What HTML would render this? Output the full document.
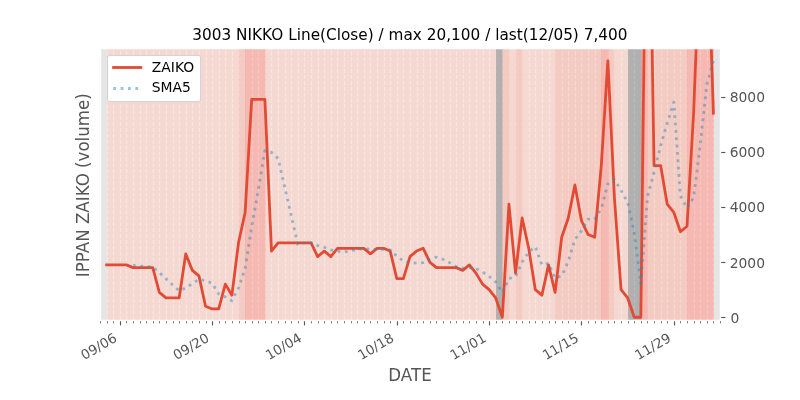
<!DOCTYPE html>
<html lang="en"><head><meta charset="utf-8"><title>3003 NIKKO Line(Close)</title>
<style>
html,body{margin:0;padding:0;background:#fff;}
body{width:800px;height:400px;overflow:hidden;}
svg{display:block;font-family:"DejaVu Sans","Liberation Sans",sans-serif;}
.tk{fill:#555555;font-size:13.89px;}
.lb{fill:#555555;font-size:16.67px;}
.lg{fill:#000;font-size:13.89px;}
</style></head>
<body>
<svg width="800" height="400" viewBox="0 0 800 400">
<defs><clipPath id="ax"><rect x="100" y="48" width="620" height="272"/></clipPath></defs>
<rect x="0" y="0" width="800" height="400" fill="#ffffff"/>
<rect x="100" y="48" width="620" height="272" fill="#e5e5e5"/>
<g clip-path="url(#ax)">
<g stroke="#ffffff" stroke-width="1.11" stroke-dasharray="4.11 1.78" fill="none">
<line x1="100.5" y1="320.5" x2="100.5" y2="48.5"/><line x1="107.5" y1="320.5" x2="107.5" y2="48.5"/><line x1="113.5" y1="320.5" x2="113.5" y2="48.5"/><line x1="120.5" y1="320.5" x2="120.5" y2="48.5"/><line x1="126.5" y1="320.5" x2="126.5" y2="48.5"/><line x1="133.5" y1="320.5" x2="133.5" y2="48.5"/><line x1="140.5" y1="320.5" x2="140.5" y2="48.5"/><line x1="146.5" y1="320.5" x2="146.5" y2="48.5"/><line x1="153.5" y1="320.5" x2="153.5" y2="48.5"/><line x1="159.5" y1="320.5" x2="159.5" y2="48.5"/><line x1="166.5" y1="320.5" x2="166.5" y2="48.5"/><line x1="173.5" y1="320.5" x2="173.5" y2="48.5"/><line x1="179.5" y1="320.5" x2="179.5" y2="48.5"/><line x1="186.5" y1="320.5" x2="186.5" y2="48.5"/><line x1="192.5" y1="320.5" x2="192.5" y2="48.5"/><line x1="199.5" y1="320.5" x2="199.5" y2="48.5"/><line x1="206.5" y1="320.5" x2="206.5" y2="48.5"/><line x1="212.5" y1="320.5" x2="212.5" y2="48.5"/><line x1="219.5" y1="320.5" x2="219.5" y2="48.5"/><line x1="225.5" y1="320.5" x2="225.5" y2="48.5"/><line x1="232.5" y1="320.5" x2="232.5" y2="48.5"/><line x1="239.5" y1="320.5" x2="239.5" y2="48.5"/><line x1="245.5" y1="320.5" x2="245.5" y2="48.5"/><line x1="252.5" y1="320.5" x2="252.5" y2="48.5"/><line x1="258.5" y1="320.5" x2="258.5" y2="48.5"/><line x1="265.5" y1="320.5" x2="265.5" y2="48.5"/><line x1="271.5" y1="320.5" x2="271.5" y2="48.5"/><line x1="278.5" y1="320.5" x2="278.5" y2="48.5"/><line x1="285.5" y1="320.5" x2="285.5" y2="48.5"/><line x1="291.5" y1="320.5" x2="291.5" y2="48.5"/><line x1="298.5" y1="320.5" x2="298.5" y2="48.5"/><line x1="304.5" y1="320.5" x2="304.5" y2="48.5"/><line x1="311.5" y1="320.5" x2="311.5" y2="48.5"/><line x1="318.5" y1="320.5" x2="318.5" y2="48.5"/><line x1="324.5" y1="320.5" x2="324.5" y2="48.5"/><line x1="331.5" y1="320.5" x2="331.5" y2="48.5"/><line x1="337.5" y1="320.5" x2="337.5" y2="48.5"/><line x1="344.5" y1="320.5" x2="344.5" y2="48.5"/><line x1="351.5" y1="320.5" x2="351.5" y2="48.5"/><line x1="357.5" y1="320.5" x2="357.5" y2="48.5"/><line x1="364.5" y1="320.5" x2="364.5" y2="48.5"/><line x1="370.5" y1="320.5" x2="370.5" y2="48.5"/><line x1="377.5" y1="320.5" x2="377.5" y2="48.5"/><line x1="384.5" y1="320.5" x2="384.5" y2="48.5"/><line x1="390.5" y1="320.5" x2="390.5" y2="48.5"/><line x1="397.5" y1="320.5" x2="397.5" y2="48.5"/><line x1="403.5" y1="320.5" x2="403.5" y2="48.5"/><line x1="410.5" y1="320.5" x2="410.5" y2="48.5"/><line x1="417.5" y1="320.5" x2="417.5" y2="48.5"/><line x1="423.5" y1="320.5" x2="423.5" y2="48.5"/><line x1="430.5" y1="320.5" x2="430.5" y2="48.5"/><line x1="436.5" y1="320.5" x2="436.5" y2="48.5"/><line x1="443.5" y1="320.5" x2="443.5" y2="48.5"/><line x1="450.5" y1="320.5" x2="450.5" y2="48.5"/><line x1="456.5" y1="320.5" x2="456.5" y2="48.5"/><line x1="463.5" y1="320.5" x2="463.5" y2="48.5"/><line x1="469.5" y1="320.5" x2="469.5" y2="48.5"/><line x1="476.5" y1="320.5" x2="476.5" y2="48.5"/><line x1="483.5" y1="320.5" x2="483.5" y2="48.5"/><line x1="489.5" y1="320.5" x2="489.5" y2="48.5"/><line x1="496.5" y1="320.5" x2="496.5" y2="48.5"/><line x1="502.5" y1="320.5" x2="502.5" y2="48.5"/><line x1="509.5" y1="320.5" x2="509.5" y2="48.5"/><line x1="516.5" y1="320.5" x2="516.5" y2="48.5"/><line x1="522.5" y1="320.5" x2="522.5" y2="48.5"/><line x1="529.5" y1="320.5" x2="529.5" y2="48.5"/><line x1="535.5" y1="320.5" x2="535.5" y2="48.5"/><line x1="542.5" y1="320.5" x2="542.5" y2="48.5"/><line x1="549.5" y1="320.5" x2="549.5" y2="48.5"/><line x1="555.5" y1="320.5" x2="555.5" y2="48.5"/><line x1="562.5" y1="320.5" x2="562.5" y2="48.5"/><line x1="568.5" y1="320.5" x2="568.5" y2="48.5"/><line x1="575.5" y1="320.5" x2="575.5" y2="48.5"/><line x1="581.5" y1="320.5" x2="581.5" y2="48.5"/><line x1="588.5" y1="320.5" x2="588.5" y2="48.5"/><line x1="595.5" y1="320.5" x2="595.5" y2="48.5"/><line x1="601.5" y1="320.5" x2="601.5" y2="48.5"/><line x1="608.5" y1="320.5" x2="608.5" y2="48.5"/><line x1="614.5" y1="320.5" x2="614.5" y2="48.5"/><line x1="621.5" y1="320.5" x2="621.5" y2="48.5"/><line x1="628.5" y1="320.5" x2="628.5" y2="48.5"/><line x1="634.5" y1="320.5" x2="634.5" y2="48.5"/><line x1="641.5" y1="320.5" x2="641.5" y2="48.5"/><line x1="647.5" y1="320.5" x2="647.5" y2="48.5"/><line x1="654.5" y1="320.5" x2="654.5" y2="48.5"/><line x1="661.5" y1="320.5" x2="661.5" y2="48.5"/><line x1="667.5" y1="320.5" x2="667.5" y2="48.5"/><line x1="674.5" y1="320.5" x2="674.5" y2="48.5"/><line x1="680.5" y1="320.5" x2="680.5" y2="48.5"/><line x1="687.5" y1="320.5" x2="687.5" y2="48.5"/><line x1="694.5" y1="320.5" x2="694.5" y2="48.5"/><line x1="700.5" y1="320.5" x2="700.5" y2="48.5"/><line x1="707.5" y1="320.5" x2="707.5" y2="48.5"/><line x1="713.5" y1="320.5" x2="713.5" y2="48.5"/><line x1="720.5" y1="320.5" x2="720.5" y2="48.5"/>
</g>
<g stroke-width="0.69">
<rect x="107.5" y="48.5" width="132" height="272" fill="rgb(255,208,198)" stroke="rgb(255,208,198)" fill-opacity="0.58" stroke-opacity="0.58"/>
<rect x="239.5" y="48.5" width="6" height="272" fill="rgb(251,184,170)" stroke="rgb(251,184,170)" fill-opacity="0.58" stroke-opacity="0.58"/>
<rect x="245.5" y="48.5" width="20" height="272" fill="rgb(253,153,141)" stroke="rgb(253,153,141)" fill-opacity="0.58" stroke-opacity="0.58"/>
<rect x="265.5" y="48.5" width="231" height="272" fill="rgb(255,208,198)" stroke="rgb(255,208,198)" fill-opacity="0.58" stroke-opacity="0.58"/>
<rect x="496.5" y="48.5" width="6" height="272" fill="rgb(137,137,137)" stroke="rgb(137,137,137)" fill-opacity="0.58" stroke-opacity="0.58"/>
<rect x="502.5" y="48.5" width="7" height="272" fill="rgb(251,184,170)" stroke="rgb(251,184,170)" fill-opacity="0.58" stroke-opacity="0.58"/>
<rect x="509.5" y="48.5" width="7" height="272" fill="rgb(255,208,198)" stroke="rgb(255,208,198)" fill-opacity="0.58" stroke-opacity="0.58"/>
<rect x="516.5" y="48.5" width="6" height="272" fill="rgb(251,184,170)" stroke="rgb(251,184,170)" fill-opacity="0.58" stroke-opacity="0.58"/>
<rect x="522.5" y="48.5" width="33" height="272" fill="rgb(255,208,198)" stroke="rgb(255,208,198)" fill-opacity="0.58" stroke-opacity="0.58"/>
<rect x="555.5" y="48.5" width="46" height="272" fill="rgb(251,184,170)" stroke="rgb(251,184,170)" fill-opacity="0.58" stroke-opacity="0.58"/>
<rect x="601.5" y="48.5" width="7" height="272" fill="rgb(253,153,141)" stroke="rgb(253,153,141)" fill-opacity="0.58" stroke-opacity="0.58"/>
<rect x="608.5" y="48.5" width="6" height="272" fill="rgb(251,184,170)" stroke="rgb(251,184,170)" fill-opacity="0.58" stroke-opacity="0.58"/>
<rect x="614.5" y="48.5" width="14" height="272" fill="rgb(255,208,198)" stroke="rgb(255,208,198)" fill-opacity="0.58" stroke-opacity="0.58"/>
<rect x="628.5" y="48.5" width="13" height="272" fill="rgb(137,137,137)" stroke="rgb(137,137,137)" fill-opacity="0.58" stroke-opacity="0.58"/>
<rect x="641.5" y="48.5" width="6" height="272" fill="rgb(253,153,141)" stroke="rgb(253,153,141)" fill-opacity="0.58" stroke-opacity="0.58"/>
<rect x="647.5" y="48.5" width="40" height="272" fill="rgb(251,184,170)" stroke="rgb(251,184,170)" fill-opacity="0.58" stroke-opacity="0.58"/>
<rect x="687.5" y="48.5" width="26" height="272" fill="rgb(253,153,141)" stroke="rgb(253,153,141)" fill-opacity="0.58" stroke-opacity="0.58"/>
</g>
<polyline points="106.6,264.86 113.19,264.86 119.79,264.86 126.38,264.86 132.98,267.61 139.57,267.61 146.17,267.61 152.77,267.61 159.36,292.43 165.96,297.94 172.55,297.94 179.15,297.94 185.74,253.83 192.34,270.37 198.94,275.88 205.53,306.21 212.13,308.97 218.72,308.97 225.32,284.16 231.91,295.18 238.51,242.8 245.11,212.47 251.7,99.42 258.3,99.42 264.89,99.42 271.49,251.07 278.09,242.8 284.68,242.8 291.28,242.8 297.87,242.8 304.47,242.8 311.06,242.8 317.66,256.58 324.26,251.07 330.85,256.58 337.45,248.31 344.04,248.31 350.64,248.31 357.23,248.31 363.83,248.31 370.43,253.83 377.02,248.31 383.62,248.31 390.21,251.07 396.81,278.64 403.4,278.64 410,256.58 416.6,251.07 423.19,248.31 429.79,262.1 436.38,267.61 442.98,267.61 449.57,267.61 456.17,267.61 462.77,270.37 469.36,264.86 475.96,273.13 482.55,284.16 489.15,289.67 495.74,297.94 502.34,317.24 508.94,204.2 515.53,273.13 522.13,217.98 528.72,248.31 535.32,289.67 541.91,295.18 548.51,264.86 555.11,292.43 561.7,237.28 568.3,217.98 574.89,184.9 581.49,220.74 588.09,234.53 594.68,237.28 601.28,165.6 607.87,60.82 614.47,198.68 621.06,289.67 627.66,297.94 634.26,317.24 640.85,317.24 647.45,-236.96 654.04,165.6 660.64,165.6 667.23,204.2 673.83,212.47 680.43,231.77 687.02,226.25 693.62,113.21 700.21,-57.74 706.81,-90.83 713.4,113.21" fill="none" stroke="#e24a33" stroke-width="2.78" stroke-linejoin="round" stroke-linecap="square"/>
<polyline points="132.98,265.41 139.57,265.96 146.17,266.51 152.77,267.06 159.36,272.58 165.96,278.64 172.55,284.71 179.15,290.77 185.74,288.02 192.34,283.6 198.94,279.19 205.53,280.85 212.13,283.05 218.72,294.08 225.32,296.84 231.91,300.7 238.51,288.02 245.11,268.72 251.7,226.81 258.3,189.86 264.89,150.71 271.49,152.36 278.09,158.43 284.68,187.1 291.28,215.78 297.87,244.45 304.47,242.8 311.06,242.8 317.66,245.55 324.26,247.21 330.85,249.97 337.45,251.07 344.04,252.17 350.64,250.52 357.23,249.97 363.83,248.31 370.43,249.42 377.02,249.42 383.62,249.42 390.21,249.97 396.81,256.03 403.4,261 410,262.65 416.6,263.2 423.19,262.65 429.79,259.34 436.38,257.14 442.98,259.34 449.57,262.65 456.17,266.51 462.77,268.16 469.36,267.61 475.96,268.72 482.55,272.02 489.15,276.44 495.74,281.95 502.34,292.43 508.94,278.64 515.53,276.44 522.13,262.1 528.72,252.17 535.32,246.66 541.91,264.86 548.51,263.2 555.11,278.09 561.7,275.88 568.3,261.55 574.89,239.49 581.49,230.67 588.09,219.09 594.68,219.09 601.28,208.61 607.87,183.79 614.47,179.38 621.06,190.41 627.66,202.54 634.26,232.87 640.85,284.16" fill="none" stroke="#348abd" stroke-opacity="0.5" stroke-width="2.78" stroke-linejoin="round" stroke-dasharray="2.78 4.58"/>
<polyline points="640.85,284.16 647.45,197.03 654.04,172.21 660.64,145.74 667.23,123.13 673.83,102.18 680.43,195.92 687.02,208.06 693.62,197.58 700.21,145.19 706.81,84.53 713.4,60.82" fill="none" stroke="#348abd" stroke-opacity="0.5" stroke-width="2.78" stroke-linejoin="round" stroke-dasharray="2.78 4.58" stroke-dashoffset="7.1"/>
</g>
<g stroke="#555555" fill="none">
<g stroke-width="0.83"><line x1="100.5" y1="320.5" x2="100.5" y2="323.28"/><line x1="107.5" y1="320.5" x2="107.5" y2="323.28"/><line x1="113.5" y1="320.5" x2="113.5" y2="323.28"/><line x1="126.5" y1="320.5" x2="126.5" y2="323.28"/><line x1="133.5" y1="320.5" x2="133.5" y2="323.28"/><line x1="140.5" y1="320.5" x2="140.5" y2="323.28"/><line x1="146.5" y1="320.5" x2="146.5" y2="323.28"/><line x1="153.5" y1="320.5" x2="153.5" y2="323.28"/><line x1="159.5" y1="320.5" x2="159.5" y2="323.28"/><line x1="166.5" y1="320.5" x2="166.5" y2="323.28"/><line x1="173.5" y1="320.5" x2="173.5" y2="323.28"/><line x1="179.5" y1="320.5" x2="179.5" y2="323.28"/><line x1="186.5" y1="320.5" x2="186.5" y2="323.28"/><line x1="192.5" y1="320.5" x2="192.5" y2="323.28"/><line x1="199.5" y1="320.5" x2="199.5" y2="323.28"/><line x1="206.5" y1="320.5" x2="206.5" y2="323.28"/><line x1="219.5" y1="320.5" x2="219.5" y2="323.28"/><line x1="225.5" y1="320.5" x2="225.5" y2="323.28"/><line x1="232.5" y1="320.5" x2="232.5" y2="323.28"/><line x1="239.5" y1="320.5" x2="239.5" y2="323.28"/><line x1="245.5" y1="320.5" x2="245.5" y2="323.28"/><line x1="252.5" y1="320.5" x2="252.5" y2="323.28"/><line x1="258.5" y1="320.5" x2="258.5" y2="323.28"/><line x1="265.5" y1="320.5" x2="265.5" y2="323.28"/><line x1="271.5" y1="320.5" x2="271.5" y2="323.28"/><line x1="278.5" y1="320.5" x2="278.5" y2="323.28"/><line x1="285.5" y1="320.5" x2="285.5" y2="323.28"/><line x1="291.5" y1="320.5" x2="291.5" y2="323.28"/><line x1="298.5" y1="320.5" x2="298.5" y2="323.28"/><line x1="311.5" y1="320.5" x2="311.5" y2="323.28"/><line x1="318.5" y1="320.5" x2="318.5" y2="323.28"/><line x1="324.5" y1="320.5" x2="324.5" y2="323.28"/><line x1="331.5" y1="320.5" x2="331.5" y2="323.28"/><line x1="337.5" y1="320.5" x2="337.5" y2="323.28"/><line x1="344.5" y1="320.5" x2="344.5" y2="323.28"/><line x1="351.5" y1="320.5" x2="351.5" y2="323.28"/><line x1="357.5" y1="320.5" x2="357.5" y2="323.28"/><line x1="364.5" y1="320.5" x2="364.5" y2="323.28"/><line x1="370.5" y1="320.5" x2="370.5" y2="323.28"/><line x1="377.5" y1="320.5" x2="377.5" y2="323.28"/><line x1="384.5" y1="320.5" x2="384.5" y2="323.28"/><line x1="390.5" y1="320.5" x2="390.5" y2="323.28"/><line x1="403.5" y1="320.5" x2="403.5" y2="323.28"/><line x1="410.5" y1="320.5" x2="410.5" y2="323.28"/><line x1="417.5" y1="320.5" x2="417.5" y2="323.28"/><line x1="423.5" y1="320.5" x2="423.5" y2="323.28"/><line x1="430.5" y1="320.5" x2="430.5" y2="323.28"/><line x1="436.5" y1="320.5" x2="436.5" y2="323.28"/><line x1="443.5" y1="320.5" x2="443.5" y2="323.28"/><line x1="450.5" y1="320.5" x2="450.5" y2="323.28"/><line x1="456.5" y1="320.5" x2="456.5" y2="323.28"/><line x1="463.5" y1="320.5" x2="463.5" y2="323.28"/><line x1="469.5" y1="320.5" x2="469.5" y2="323.28"/><line x1="476.5" y1="320.5" x2="476.5" y2="323.28"/><line x1="483.5" y1="320.5" x2="483.5" y2="323.28"/><line x1="496.5" y1="320.5" x2="496.5" y2="323.28"/><line x1="502.5" y1="320.5" x2="502.5" y2="323.28"/><line x1="509.5" y1="320.5" x2="509.5" y2="323.28"/><line x1="516.5" y1="320.5" x2="516.5" y2="323.28"/><line x1="522.5" y1="320.5" x2="522.5" y2="323.28"/><line x1="529.5" y1="320.5" x2="529.5" y2="323.28"/><line x1="535.5" y1="320.5" x2="535.5" y2="323.28"/><line x1="542.5" y1="320.5" x2="542.5" y2="323.28"/><line x1="549.5" y1="320.5" x2="549.5" y2="323.28"/><line x1="555.5" y1="320.5" x2="555.5" y2="323.28"/><line x1="562.5" y1="320.5" x2="562.5" y2="323.28"/><line x1="568.5" y1="320.5" x2="568.5" y2="323.28"/><line x1="575.5" y1="320.5" x2="575.5" y2="323.28"/><line x1="588.5" y1="320.5" x2="588.5" y2="323.28"/><line x1="595.5" y1="320.5" x2="595.5" y2="323.28"/><line x1="601.5" y1="320.5" x2="601.5" y2="323.28"/><line x1="608.5" y1="320.5" x2="608.5" y2="323.28"/><line x1="614.5" y1="320.5" x2="614.5" y2="323.28"/><line x1="621.5" y1="320.5" x2="621.5" y2="323.28"/><line x1="628.5" y1="320.5" x2="628.5" y2="323.28"/><line x1="634.5" y1="320.5" x2="634.5" y2="323.28"/><line x1="641.5" y1="320.5" x2="641.5" y2="323.28"/><line x1="647.5" y1="320.5" x2="647.5" y2="323.28"/><line x1="654.5" y1="320.5" x2="654.5" y2="323.28"/><line x1="661.5" y1="320.5" x2="661.5" y2="323.28"/><line x1="667.5" y1="320.5" x2="667.5" y2="323.28"/><line x1="680.5" y1="320.5" x2="680.5" y2="323.28"/><line x1="687.5" y1="320.5" x2="687.5" y2="323.28"/><line x1="694.5" y1="320.5" x2="694.5" y2="323.28"/><line x1="700.5" y1="320.5" x2="700.5" y2="323.28"/><line x1="707.5" y1="320.5" x2="707.5" y2="323.28"/><line x1="713.5" y1="320.5" x2="713.5" y2="323.28"/><line x1="720.5" y1="320.5" x2="720.5" y2="323.28"/></g>
<g stroke-width="1.11"><line x1="120.5" y1="320.5" x2="120.5" y2="325.36"/><line x1="212.5" y1="320.5" x2="212.5" y2="325.36"/><line x1="304.5" y1="320.5" x2="304.5" y2="325.36"/><line x1="397.5" y1="320.5" x2="397.5" y2="325.36"/><line x1="489.5" y1="320.5" x2="489.5" y2="325.36"/><line x1="581.5" y1="320.5" x2="581.5" y2="325.36"/><line x1="674.5" y1="320.5" x2="674.5" y2="325.36"/><line x1="720.5" y1="317.5" x2="725.36" y2="317.5"/><line x1="720.5" y1="262.5" x2="725.36" y2="262.5"/><line x1="720.5" y1="207.5" x2="725.36" y2="207.5"/><line x1="720.5" y1="152.5" x2="725.36" y2="152.5"/><line x1="720.5" y1="97.5" x2="725.36" y2="97.5"/></g>
</g>
<path d="M100.5 48.5H720.5V320.5H100.5Z" fill="none" stroke="#ffffff" stroke-width="1.39"/>
<text class="tk" style="font-size:13.5px" text-anchor="end" transform="translate(117.89,340.75) rotate(-30)">09/06</text>
<text class="tk" style="font-size:13.5px" text-anchor="end" transform="translate(210.23,340.75) rotate(-30)">09/20</text>
<text class="tk" style="font-size:13.5px" text-anchor="end" transform="translate(302.57,340.75) rotate(-30)">10/04</text>
<text class="tk" style="font-size:13.5px" text-anchor="end" transform="translate(394.91,340.75) rotate(-30)">10/18</text>
<text class="tk" style="font-size:13.5px" text-anchor="end" transform="translate(487.25,340.75) rotate(-30)">11/01</text>
<text class="tk" style="font-size:13.5px" text-anchor="end" transform="translate(579.59,340.75) rotate(-30)">11/15</text>
<text class="tk" style="font-size:13.5px" text-anchor="end" transform="translate(671.93,340.75) rotate(-30)">11/29</text>
<text class="tk" x="730.42" y="322.74">0</text>
<text class="tk" x="729.72" y="267.6">2000</text>
<text class="tk" x="729.72" y="212.45">4000</text>
<text class="tk" x="729.72" y="157.31">6000</text>
<text class="tk" x="729.72" y="102.16">8000</text>
<text class="lb" text-anchor="middle" transform="translate(410,381) scale(1,1.07)">DATE</text>
<text class="lb" text-anchor="middle" transform="translate(88.9,185.2) rotate(-90) scale(1,1.07)">IPPAN ZAIKO (volume)</text>
<text text-anchor="middle" x="409.9" y="39.67" font-size="15.28px" letter-spacing="0.0185" fill="#000000">3003 NIKKO Line(Close) / max 20,100 / last(12/05) 7,400</text>
<rect x="107.6" y="55.4" width="93" height="46.2" rx="2" ry="2" fill="#ffffff" stroke="#c8c8c8" stroke-width="0.8"/>
<line x1="112.2" y1="67.5" x2="142.2" y2="67.5" stroke="#e24a33" stroke-width="2.78"/>
<line x1="113.3" y1="88.5" x2="141.08" y2="88.5" stroke="#348abd" stroke-opacity="0.5" stroke-width="2.78" stroke-dasharray="2.78 4.58"/>
<text class="lg" x="151.8" y="71.5">ZAIKO</text>
<text class="lg" x="151.8" y="92.44">SMA5</text>
</svg>
</body></html>
